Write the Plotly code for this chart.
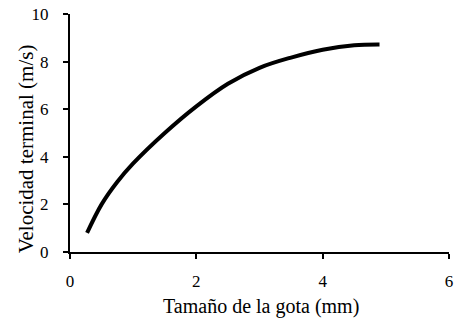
import plotly.graph_objects as go

drop_size_mm = [0.27, 0.5, 0.75, 1.0, 1.5, 2.0, 2.5, 3.0, 3.5, 4.0, 4.5, 4.9]
terminal_velocity = [0.8, 2.0, 2.95, 3.72, 5.0, 6.12, 7.07, 7.74, 8.17, 8.5, 8.69, 8.72]

x_ticks = [0, 2, 4, 6]
y_ticks = [0, 2, 4, 6, 8, 10]

x_title = "Tamaño de la gota (mm)"
y_title = "Velocidad terminal (m/s)"

FONT = "Liberation Serif"

fig = go.Figure()
fig.add_trace(go.Scatter(
    x=drop_size_mm, y=terminal_velocity, mode="lines",
    line=dict(color="black", width=4, shape="spline", smoothing=1.0),
    showlegend=False,
))

fig.update_layout(
    width=457, height=321,
    margin=dict(l=70, r=8, t=14, b=69),
    paper_bgcolor="white", plot_bgcolor="white",
    font=dict(family=FONT, size=17, color="black"),
    annotations=[
        dict(text=x_title, xref="paper", yref="paper", x=0.504, y=-0.227,
             xanchor="center", yanchor="middle", showarrow=False,
             font=dict(family=FONT, size=20, color="black")),
        dict(text=y_title, xref="paper", yref="paper", x=-0.115, y=0.433,
             xanchor="center", yanchor="middle", showarrow=False, textangle=-90,
             font=dict(family=FONT, size=21, color="black")),
    ],
)
fig.update_xaxes(
    range=[0, 6], tickvals=x_ticks, showgrid=False, zeroline=False,
    showline=True, linecolor="black", linewidth=2, automargin=False,
    ticks="outside", ticklen=5, tickwidth=1.5, tickcolor="black",
    ticklabelstandoff=8, tickfont=dict(family=FONT, size=17, color="black"),
)
fig.update_yaxes(
    range=[0, 10], tickvals=y_ticks, showgrid=False, zeroline=False,
    showline=True, linecolor="black", linewidth=2, automargin=False,
    ticks="outside", ticklen=5, tickwidth=1.5, tickcolor="black",
    ticklabelstandoff=11, tickfont=dict(family=FONT, size=17, color="black"),
)

fig.write_html("out.html")
